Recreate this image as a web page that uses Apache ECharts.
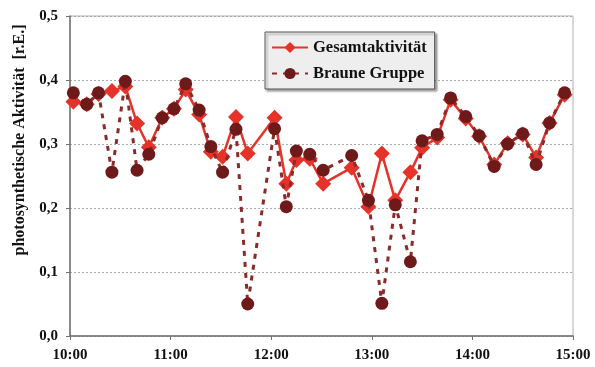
<!DOCTYPE html>
<html><head><meta charset="utf-8">
<script src="https://cdn.jsdelivr.net/npm/echarts@6/dist/echarts.min.js"></script>
<style>html,body{margin:0;padding:0;background:#fff}#c{width:595px;height:367px}</style>
</head><body><div id="c"></div>
<script>
const times = ["10:02","10:10","10:17","10:25","10:33","10:40","10:47","10:55","11:02","11:09","11:17","11:24","11:31","11:39","11:46","12:02","12:09","12:15","12:23","12:31","12:48","12:58","13:06","13:14","13:23","13:30","13:39","13:47","13:56","14:04","14:13","14:21","14:30","14:38","14:46","14:55"];
const gesamt = [0.366,0.362,0.378,0.383,0.390,0.332,0.295,0.341,0.355,0.385,0.346,0.288,0.280,0.342,0.285,0.341,0.238,0.275,0.277,0.238,0.263,0.202,0.285,0.212,0.256,0.294,0.310,0.369,0.340,0.312,0.268,0.301,0.315,0.279,0.333,0.377];
const braun = [0.380,0.362,0.380,0.256,0.398,0.259,0.284,0.341,0.355,0.394,0.353,0.296,0.256,0.323,0.050,0.324,0.202,0.289,0.284,0.259,0.282,0.212,0.051,0.205,0.116,0.305,0.315,0.372,0.343,0.313,0.265,0.300,0.316,0.268,0.333,0.380];
const xTickLabels = ["10:00","11:00","12:00","13:00","14:00","15:00"];
const yTitle = "photosynthetische Aktivität  [r.E.]";

function toMin(t){const p=t.split(':');return (+p[0])*60+(+p[1]);}
const serif = '"Liberation Serif", "Times New Roman", serif';
const chart = echarts.init(document.getElementById('c'));
chart.setOption({
  animation:false,
  backgroundColor:'#fff',
  grid:{left:70,right:22,top:16,bottom:31,show:true,borderColor:'#b0b0b0',borderWidth:1,backgroundColor:'transparent'},
  xAxis:{type:'value',min:600,max:900,interval:60,
    axisLine:{lineStyle:{color:'#707070',width:1.5}},
    axisTick:{show:true,length:4,lineStyle:{color:'#707070'}},
    splitLine:{show:false},
    axisLabel:{color:'#111',fontFamily:serif,fontWeight:'bold',fontSize:15,margin:12,
      formatter:v=>xTickLabels[Math.round((v-600)/60)]||''}},
  yAxis:{type:'value',min:0,max:0.5,interval:0.1,
    axisLine:{show:true,lineStyle:{color:'#707070',width:1.5}},
    axisTick:{show:true,length:4,lineStyle:{color:'#707070'}},
    splitLine:{show:true,lineStyle:{color:'#aaaaaa',type:[2,2],width:1}},
    axisLabel:{color:'#111',fontFamily:serif,fontWeight:'bold',fontSize:15,margin:12,
      formatter:v=>v.toFixed(1).replace('.',',')}},
  legend:{left:265,top:32,orient:'vertical',itemGap:9,itemWidth:36,itemHeight:14,
    padding:[7,8,7,6],backgroundColor:'#eeeeee',borderColor:'#555',borderWidth:1,
    shadowColor:'rgba(0,0,0,0.35)',shadowOffsetX:2,shadowOffsetY:2,shadowBlur:2,
    textStyle:{color:'#111',fontFamily:serif,fontWeight:'bold',fontSize:16.5},
    data:['Gesamtaktivität','Braune Gruppe']},
  graphic:[{type:'text',x:20,y:140,rotation:Math.PI/2,
    style:{text:yTitle,align:'center',verticalAlign:'middle',fill:'#111',font:'bold 16px '+serif}}],
  series:[
    {name:'Gesamtaktivität',type:'line',data:times.map((t,i)=>[toMin(t),gesamt[i]]),
     symbol:'diamond',symbolSize:16,
     lineStyle:{color:'#e5332a',width:2.5},itemStyle:{color:'#e5332a'},z:2},
    {name:'Braune Gruppe',type:'line',data:times.map((t,i)=>[toMin(t),braun[i]]),
     symbol:'circle',symbolSize:13,
     lineStyle:{color:'#8b2a2a',width:3,type:[5,6]},itemStyle:{color:'#6e1a1a'},z:3}
  ]
});
</script></body></html>
